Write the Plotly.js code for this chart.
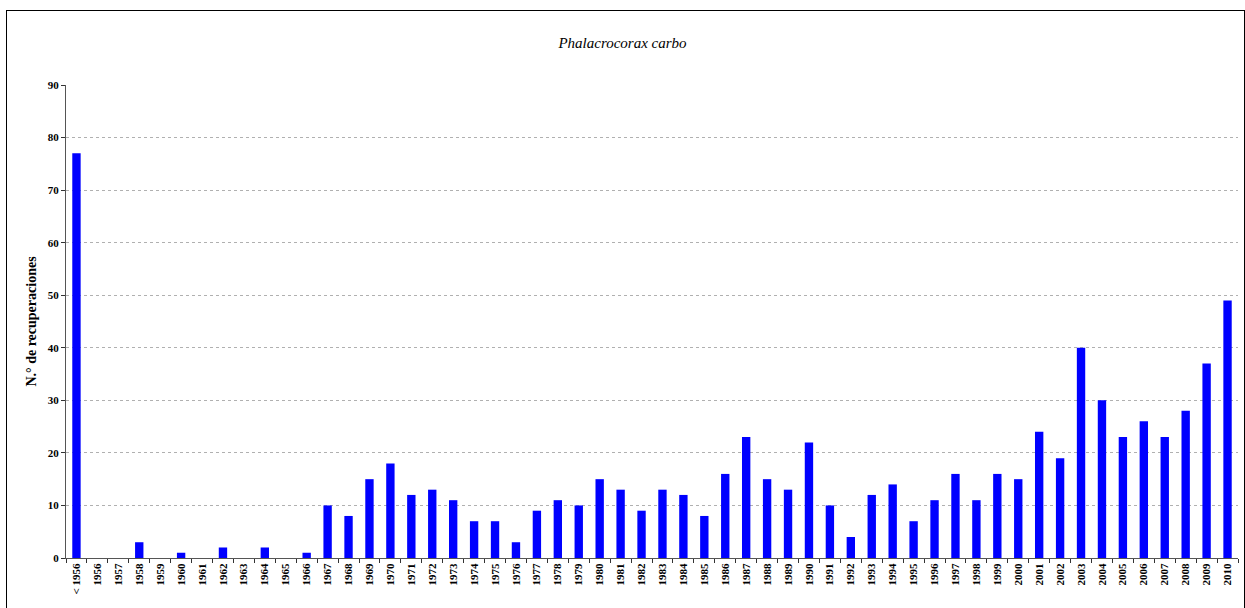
<!DOCTYPE html>
<html>
<head>
<meta charset="utf-8">
<script src="https://cdn.plot.ly/plotly-3.0.1.min.js"></script>
<style>
html,body{margin:0;padding:0;background:#fff;overflow:hidden;}
#frame{position:absolute;left:6px;top:10px;width:1237px;height:640px;border:1px solid #000;pointer-events:none;z-index:5;}
#chart{position:absolute;left:0;top:0;width:1245px;height:608px;}
</style>
</head>
<body>
<div id="chart"></div>
<div id="frame"></div>
<script>
var categories = ["< 1956","1956","1957","1958","1959","1960","1961","1962","1963","1964","1965","1966","1967","1968","1969","1970","1971","1972","1973","1974","1975","1976","1977","1978","1979","1980","1981","1982","1983","1984","1985","1986","1987","1988","1989","1990","1991","1992","1993","1994","1995","1996","1997","1998","1999","2000","2001","2002","2003","2004","2005","2006","2007","2008","2009","2010"];
var recuperaciones = [77,0,0,3,0,1,0,2,0,2,0,1,10,8,15,18,12,13,11,7,7,3,9,11,10,15,13,9,13,12,8,16,23,15,13,22,10,4,12,14,7,11,16,11,16,15,24,19,40,30,23,26,23,28,37,49];
var yTicks = [0,10,20,30,40,50,60,70,80,90];

var trace = {
  type: 'bar',
  x: categories,
  y: recuperaciones,
  marker: {color: '#0000ff', line: {width: 0}},
  hoverinfo: 'x+y'
};

var serif = 'Liberation Serif, Times New Roman, serif';
var tickFont = {family: serif, size: 11, color: '#000', weight: 'bold'};

var layout = {
  width: 1245,
  height: 608,
  margin: {l: 66, r: 7, t: 85, b: 50},
  paper_bgcolor: '#fff',
  plot_bgcolor: '#fff',
  showlegend: false,
  bargap: 0.6,
  title: {
    text: 'Phalacrocorax carbo',
    font: {family: serif, size: 15, style: 'italic', color: '#000'},
    x: 0.5, xanchor: 'center', y: 0.93, yanchor: 'middle'
  },
  xaxis: {
    type: 'category',
    tickangle: -90,
    tickfont: tickFont,
    showline: true,
    linecolor: '#555',
    linewidth: 1,
    ticks: 'outside',
    tickson: 'boundaries',
    ticklen: 4,
    tickcolor: '#333',
    showgrid: false,
    fixedrange: true
  },
  yaxis: {
    range: [0, 90],
    tickvals: yTicks,
    ticktext: yTicks.map(String),
    tickfont: tickFont,
    showline: true,
    linecolor: '#555',
    linewidth: 1,
    ticks: 'outside',
    ticklen: 4,
    tickcolor: '#333',
    showgrid: true,
    gridcolor: '#b0b0b0',
    griddash: '3px,3px',
    gridwidth: 1,
    zeroline: false,
    title: {
      text: 'N.° de recuperaciones',
      font: {family: serif, size: 14, color: '#000', weight: 'bold'},
      standoff: 7
    },
    fixedrange: true
  }
};

Plotly.newPlot('chart', [trace], layout, {displayModeBar: false});
</script>
</body>
</html>
